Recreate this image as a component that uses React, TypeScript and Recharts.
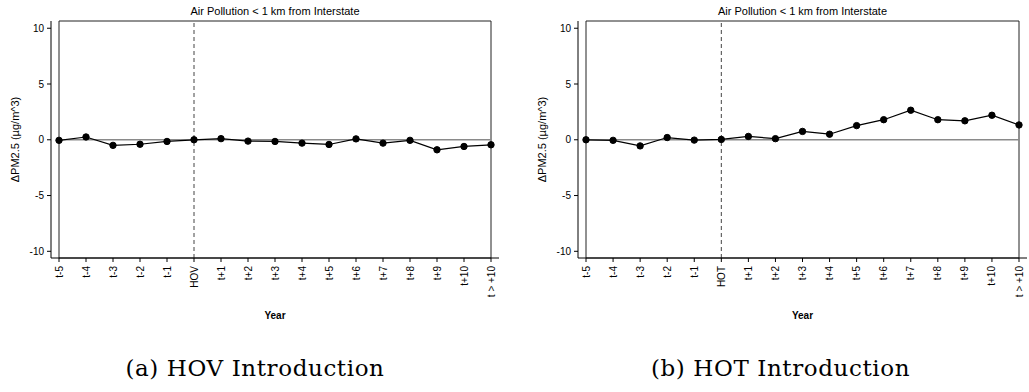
import {
  LineChart,
  Line,
  XAxis,
  YAxis,
  ReferenceLine,
  ReferenceArea,
  Label,
} from 'recharts'

const YEARS_BEFORE = ['t-5', 't-4', 't-3', 't-2', 't-1']
const YEARS_AFTER = ['t+1', 't+2', 't+3', 't+4', 't+5', 't+6', 't+7', 't+8', 't+9', 't+10', 't > +10']
const Y_TICKS = [-10, -5, 0, 5, 10]

// estimated off the scanned figure
const hovValues = [-0.05, 0.25, -0.5, -0.4, -0.15, 0.0, 0.1, -0.12, -0.15, -0.3, -0.42, 0.08, -0.3, -0.05, -0.9, -0.6, -0.45]
const hotValues = [0.0, -0.05, -0.55, 0.2, -0.03, 0.03, 0.3, 0.1, 0.75, 0.5, 1.27, 1.8, 2.65, 1.8, 1.7, 2.2, 1.33]

const TITLE = 'Air Pollution < 1 km from Interstate'
const Y_LABEL = 'ΔPM2.5 (µg/m^3)'

const SANS = '"Liberation Sans", Arial, sans-serif'
const SERIF = '"DejaVu Serif", "Liberation Serif", serif'

// eslint-disable-next-line @typescript-eslint/no-explicit-any
function YearTick({ x, y, payload }: any) {
  return (
    <g transform={`translate(${x},${y})`}>
      <text transform="rotate(-90)" textAnchor="end" dy="0.35em" fontSize={10} fill="#000" fontFamily={SANS}>
        {payload.value}
      </text>
    </g>
  )
}

interface PanelProps {
  intro: string
  values: number[]
  caption: string
  left: number
  width: number
  captionShift: number
}

function Panel({ intro, values, caption, left, width, captionShift }: PanelProps) {
  const years = [...YEARS_BEFORE, intro, ...YEARS_AFTER]
  const data = years.map((year, i) => ({ year, value: values[i] }))
  const plotLeft = 51
  const plotRight = width - 16
  const center = (plotLeft + plotRight) / 2

  return (
    <div style={{ position: 'absolute', left, top: 0, width, height: 392 }}>
      <div
        style={{
          position: 'absolute', top: 5, left: center - 150, width: 300, textAlign: 'center',
          fontFamily: SANS, fontSize: 11, lineHeight: '13px', color: '#000',
        }}
      >
        {TITLE}
      </div>
      <LineChart width={width} height={330} data={data} margin={{ top: 21, right: 16, left: 0, bottom: 22 }}>
        <XAxis
          dataKey="year"
          interval={0}
          height={50}
          padding={{ left: 8, right: 8 }}
          tick={<YearTick />}
          tickSize={4}
          tickMargin={4}
          axisLine={{ stroke: '#000' }}
          tickLine={{ stroke: '#000' }}
        />
        <YAxis
          type="number"
          domain={[-10.6, 10.65]}
          ticks={Y_TICKS}
          allowDataOverflow
          width={51}
          tickSize={4}
          tickMargin={3}
          tick={{ fontSize: 10, fill: '#000', fontFamily: SANS }}
          axisLine={{ stroke: '#000' }}
          tickLine={{ stroke: '#000' }}
        >
          <Label
            content={(props) => {
              // eslint-disable-next-line @typescript-eslint/no-explicit-any
              const vb = (props as any).viewBox
              const cy = vb.y + vb.height / 2
              return (
                <text
                  x={15}
                  y={cy}
                  transform={`rotate(-90, 15, ${cy})`}
                  textAnchor="middle"
                  dominantBaseline="central"
                  fontSize={11}
                  fill="#000"
                  fontFamily={SANS}
                >
                  {Y_LABEL}
                </text>
              )
            }}
          />
        </YAxis>
        <ReferenceArea y1={-10.6} y2={10.65} fill="none" stroke="#222" strokeWidth={1} />
        <ReferenceLine
          segment={[{ x: years[0], y: 0 }, { x: years[years.length - 1], y: 0 }]}
          stroke="#8a8a8a"
          strokeWidth={1.5}
        />
        <ReferenceLine x={intro} stroke="#444" strokeDasharray="4 3" strokeWidth={1} />
        <Line
          type="linear"
          dataKey="value"
          stroke="#000"
          strokeWidth={1.2}
          dot={{ r: 3.2, fill: '#000', stroke: '#000', strokeWidth: 1 }}
          isAnimationActive={false}
        />
      </LineChart>
      <div
        style={{
          position: 'absolute', top: 310, left: center - 50, width: 100, textAlign: 'center',
          fontFamily: SANS, fontSize: 10, fontWeight: 'bold', lineHeight: '12px', color: '#000',
        }}
      >
        Year
      </div>
      <div
        style={{
          position: 'absolute', top: 354, left: center - 200 + captionShift, width: 400, textAlign: 'center',
          fontFamily: SERIF, fontSize: 23, letterSpacing: 0.6, lineHeight: '28px', color: '#000',
        }}
      >
        {caption}
      </div>
    </div>
  )
}

export default function App() {
  return (
    <div style={{ position: 'absolute', left: 0, top: 0, width: 1029, height: 392, background: '#fff' }}>
      <Panel intro="HOV" values={hovValues} caption="(a) HOV Introduction" left={0} width={515} captionShift={-20} />
      <Panel intro="HOT" values={hotValues} caption="(b) HOT Introduction" left={527} width={516} captionShift={-22} />
    </div>
  )
}
